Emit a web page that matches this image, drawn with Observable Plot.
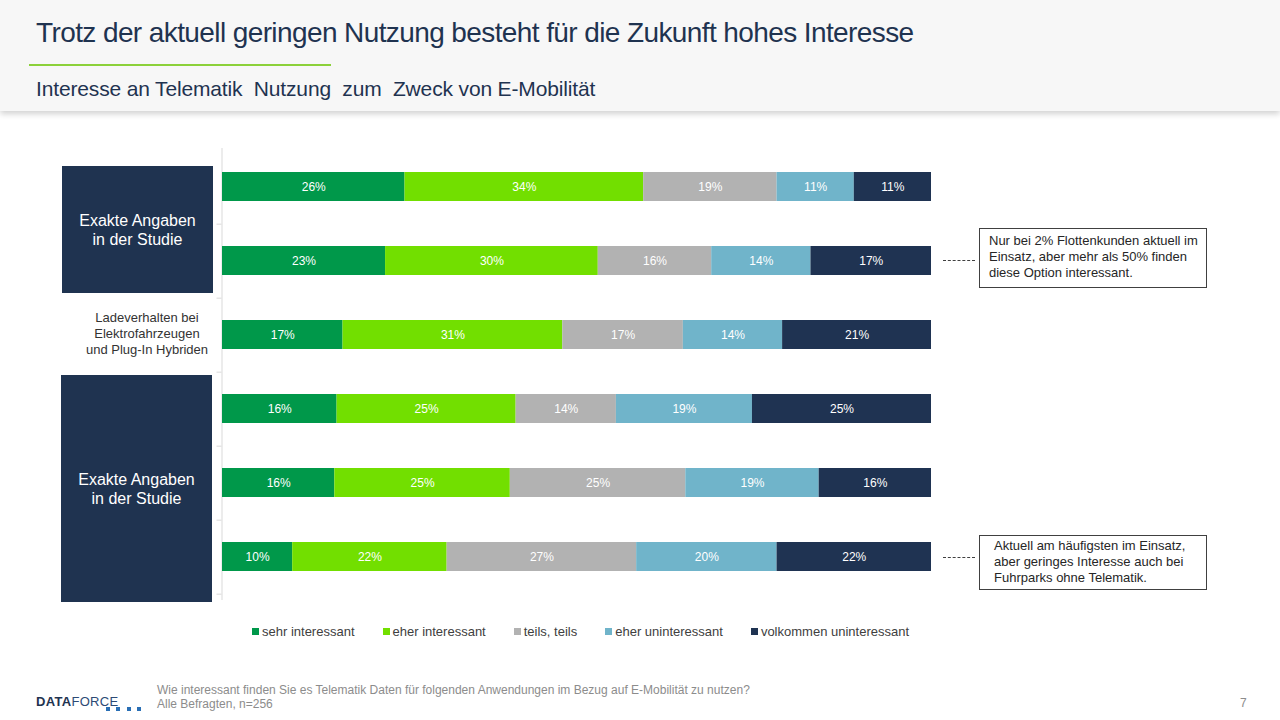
<!DOCTYPE html>
<html>
<head>
<meta charset="utf-8">
<script src="https://cdn.jsdelivr.net/npm/d3@7"></script>
<script src="https://cdn.jsdelivr.net/npm/@observablehq/plot@0.6"></script>
<style>
  html, body { margin: 0; padding: 0; background: #ffffff; }
  body { width: 1280px; height: 720px; position: relative; overflow: hidden; font-family: "Liberation Sans", Arial, sans-serif; }
  .header { position: absolute; left: 0; top: 0; width: 1280px; height: 111px; background: #f7f7f7; box-shadow: 0 3px 6px rgba(0,0,0,0.18); }
  .title { position: absolute; left: 36px; top: 17px; font-size: 28px; color: #1f3350; white-space: pre; letter-spacing: -0.6px; }
  .greenline { position: absolute; left: 29px; top: 64px; width: 302px; height: 2px; background: #8cd13a; }
  .subtitle { position: absolute; left: 36px; top: 77px; font-size: 21px; color: #1f3350; white-space: pre; letter-spacing: -0.15px; }
  .panel { position: absolute; background: #1f3350; color: #ffffff; font-size: 16px; display: flex; align-items: center; justify-content: center; text-align: center; line-height: 19px; }
  .midlabel { position: absolute; left: 67px; width: 160px; top: 310px; text-align: center; font-size: 13px; line-height: 16px; color: #333333; }
  #chart { position: absolute; left: 0; top: 140px; }
  .note { position: absolute; left: 979px; width: 228px; border: 1px solid #404040; background: #fff; box-sizing: border-box; font-size: 13px; line-height: 16px; color: #262626; padding: 4px 4px 3px 9px; white-space: nowrap; }
  .dash { position: absolute; left: 943px; width: 32px; border-top: 1px dashed #404040; }
  #legend { position: absolute; left: 252px; top: 624px; display: flex; font-size: 13px; color: #404040; }
  #legend .item { display: flex; align-items: center; margin-right: 28px; }
  #legend .sw { width: 7px; height: 7px; margin-right: 3px; }
  .logo { position: absolute; left: 36px; top: 694px; font-size: 13px; font-weight: bold; color: #1f3350; letter-spacing: 0.3px; }
  .logo span { font-weight: normal; color: #2d4a75; }
  .dots { position: absolute; top: 707px; width: 4px; height: 4px; background: #2a6fb5; }
  .foot { position: absolute; left: 157px; top: 683px; font-size: 12px; line-height: 14px; color: #8c8c8c; white-space: pre; }
  .pagenum { position: absolute; left: 1240px; top: 696px; font-size: 12px; color: #8c8c8c; }
</style>
</head>
<body>
<div class="header">
  <div class="title">Trotz der aktuell geringen Nutzung besteht für die Zukunft hohes Interesse</div>
  <div class="greenline"></div>
  <div class="subtitle">Interesse an Telematik  Nutzung  zum  Zweck von E-Mobilität</div>
</div>

<div class="panel" style="left:62px; top:166px; width:151px; height:127px;">Exakte Angaben<br>in der Studie</div>
<div class="midlabel">Ladeverhalten bei<br>Elektrofahrzeugen<br>und Plug-In Hybriden</div>
<div class="panel" style="left:61px; top:375px; width:151px; height:227px;">Exakte Angaben<br>in der Studie</div>

<div id="chart"></div>

<div class="dash" style="top:260px;"></div>
<div class="note" style="top:228px; height:60px;">Nur bei 2% Flottenkunden aktuell im<br>Einsatz, aber mehr als 50% finden<br>diese Option interessant.</div>
<div class="dash" style="top:557px;"></div>
<div class="note" style="top:535px; height:55px; padding-left:14px; padding-top:2px;">Aktuell am häufigsten im Einsatz,<br>aber geringes Interesse auch bei<br>Fuhrparks ohne Telematik.</div>

<div id="legend"></div>

<div class="logo">DATA<span>FORCE</span></div>
<div class="dots" style="left:106px;"></div>
<div class="dots" style="left:116px;"></div>
<div class="dots" style="left:127px;"></div>
<div class="dots" style="left:137px;"></div>
<div class="foot">Wie interessant finden Sie es Telematik Daten für folgenden Anwendungen im Bezug auf E-Mobilität zu nutzen?
Alle Befragten, n=256</div>
<div class="pagenum">7</div>

<script>
// ---- Data ----
const rows = ["r1", "r2", "r3", "r4", "r5", "r6"];
const categories = ["sehr interessant", "eher interessant", "teils, teils", "eher uninteressant", "volkommen uninteressant"];
const colors = ["#00984a", "#72df00", "#b2b2b2", "#70b4ca", "#1f3352"];
const sehrInteressant = [26, 23, 17, 16, 16, 10];
const eherInteressant = [34, 30, 31, 25, 25, 22];
const teilsTeils = [19, 16, 17, 14, 25, 27];
const eherUninteressant = [11, 14, 14, 19, 19, 20];
const volkommenUninteressant = [11, 17, 21, 25, 16, 22];

const series = [sehrInteressant, eherInteressant, teilsTeils, eherUninteressant, volkommenUninteressant];
const table = [];
rows.forEach((r, i) => {
  categories.forEach((c, j) => {
    table.push({ row: r, cat: c, value: series[j][i] });
  });
});

const W = 1280, H = 470, mt = 8, mb = 16;
const step = (H - mt - mb) / rows.length;

const chart = Plot.plot({
  width: W,
  height: H,
  marginLeft: 222,
  marginRight: 349,
  marginTop: mt,
  marginBottom: mb,
  style: { fontFamily: "'Liberation Sans', Arial, sans-serif", fontSize: "12px", background: "transparent" },
  x: { domain: [0, 1], axis: null },
  y: { domain: rows, paddingInner: 0.61, paddingOuter: 0.305, align: 0.5, axis: null },
  color: { domain: categories, range: colors },
  marks: [
    Plot.ruleX([0], { stroke: "#d9d9d9", dx: -0.5, insetBottom: -6 }),
    Plot.axisY({ tickSize: 5, tickFormat: () => "", label: null, stroke: "#d9d9d9", dy: step / 2, dx: -0.5 }),
    Plot.barX(table, Plot.stackX({ x: "value", y: "row", fill: "cat", offset: "normalize", order: categories })),
    Plot.text(table, Plot.stackX({ x: "value", y: "row", z: "cat", offset: "normalize", order: categories, text: d => d.value + "%", fill: "#ffffff", fontSize: 12 }))
  ]
});
document.getElementById("chart").appendChild(chart);

// legend
const leg = document.getElementById("legend");
categories.forEach((c, i) => {
  const it = document.createElement("div");
  it.className = "item";
  const sw = document.createElement("div");
  sw.className = "sw";
  sw.style.background = colors[i];
  const t = document.createElement("span");
  t.textContent = c;
  it.appendChild(sw);
  it.appendChild(t);
  leg.appendChild(it);
});
</script>
</body>
</html>
